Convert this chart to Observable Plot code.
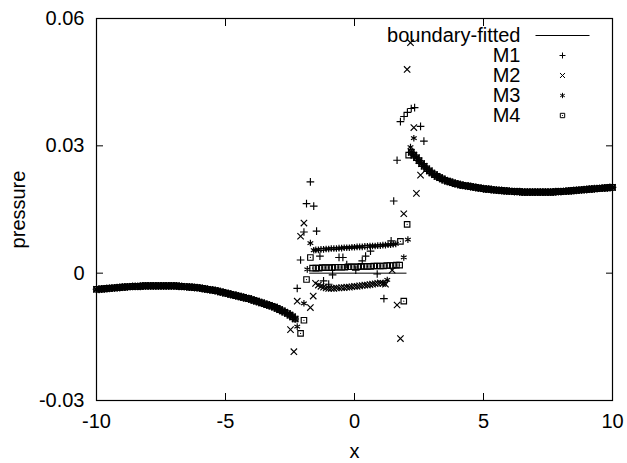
<!DOCTYPE html>
<html><head><meta charset="utf-8">
<script src="https://cdn.jsdelivr.net/npm/d3@7"></script>
<script src="https://cdn.jsdelivr.net/npm/@observablehq/plot@0.6"></script>
<style>body{margin:0;background:#fff;}</style>
</head><body><div id="chart"></div>
<script>
const xTicks = [-10, -5, 0, 5, 10];
const yTicks = [-0.03, 0, 0.03, 0.06];
const yTickLabels = ["-0.03", "0", "0.03", "0.06"];
const seriesNames = ["M1", "M2", "M3", "M4"];
const lineName = "boundary-fitted";

// outer flow (all methods agree here)
const leftX = [-10,-9.9,-9.8,-9.7,-9.6,-9.5,-9.4,-9.3,-9.2,-9.1,-9,-8.9,-8.8,-8.7,-8.6,-8.5,-8.4,-8.3,-8.2,-8.1,-8,-7.9,-7.8,-7.7,-7.6,-7.5,-7.4,-7.3,-7.2,-7.1,-7,-6.9,-6.8,-6.7,-6.6,-6.5,-6.4,-6.3,-6.2,-6.1,-6,-5.9,-5.8,-5.7,-5.6,-5.5,-5.4,-5.3,-5.2,-5.1,-5,-4.9,-4.8,-4.7,-4.6,-4.5,-4.4,-4.3,-4.2,-4.1,-4,-3.9,-3.8,-3.7,-3.6,-3.5,-3.4,-3.3,-3.2,-3.1,-3,-2.9,-2.8,-2.7,-2.6,-2.5,-2.4,-2.3];
const leftP = [-0.0038,-0.0038,-0.0037,-0.0037,-0.0036,-0.0036,-0.0035,-0.0035,-0.0034,-0.0034,-0.0033,-0.0033,-0.0032,-0.0032,-0.0031,-0.0031,-0.0031,-0.0031,-0.0030,-0.0030,-0.0030,-0.0030,-0.0030,-0.0030,-0.0030,-0.0030,-0.0030,-0.0030,-0.0030,-0.0030,-0.0030,-0.0030,-0.0031,-0.0031,-0.0032,-0.0032,-0.0033,-0.0033,-0.0034,-0.0034,-0.0035,-0.0036,-0.0037,-0.0038,-0.0039,-0.0040,-0.0041,-0.0042,-0.0044,-0.0045,-0.0047,-0.0048,-0.0050,-0.0051,-0.0053,-0.0054,-0.0056,-0.0057,-0.0059,-0.0060,-0.0062,-0.0064,-0.0066,-0.0068,-0.0070,-0.0072,-0.0074,-0.0076,-0.0078,-0.0080,-0.0083,-0.0086,-0.0089,-0.0092,-0.0095,-0.0099,-0.0103,-0.0108];
const rightX = [2.2,2.3,2.4,2.5,2.6,2.7,2.8,2.9,3,3.1,3.2,3.3,3.4,3.5,3.6,3.7,3.8,3.9,4,4.1,4.2,4.3,4.4,4.5,4.6,4.7,4.8,4.9,5,5.1,5.2,5.3,5.4,5.5,5.6,5.7,5.8,5.9,6,6.1,6.2,6.3,6.4,6.5,6.6,6.7,6.8,6.9,7,7.1,7.2,7.3,7.4,7.5,7.6,7.7,7.8,7.9,8,8.1,8.2,8.3,8.4,8.5,8.6,8.7,8.8,8.9,9,9.1,9.2,9.3,9.4,9.5,9.6,9.7,9.8,9.9,10];
const rightP = [0.0285,0.0278,0.0272,0.0265,0.0258,0.0252,0.0246,0.0241,0.0236,0.0232,0.0228,0.0225,0.0222,0.0219,0.0217,0.0215,0.0213,0.0211,0.0210,0.0208,0.0207,0.0206,0.0205,0.0204,0.0203,0.0202,0.0201,0.0200,0.0199,0.0198,0.0198,0.0197,0.0196,0.0196,0.0195,0.0195,0.0194,0.0194,0.0193,0.0193,0.0192,0.0192,0.0192,0.0191,0.0191,0.0191,0.0191,0.0191,0.0191,0.0191,0.0191,0.0191,0.0191,0.0191,0.0191,0.0191,0.0192,0.0192,0.0192,0.0193,0.0193,0.0194,0.0194,0.0195,0.0195,0.0196,0.0196,0.0197,0.0197,0.0198,0.0198,0.0199,0.0199,0.0200,0.0200,0.0201,0.0201,0.0202,0.0202];

// boundary-fitted inside the gap
const bfInnerX = [-1.74, 2.0];
const bfInnerP = [0, 0];

// scattered inner values of each method
const m1X = [-2.22,-2.09,-1.96,-1.86,-1.71,-1.58,-1.47,-1.34,-1.2,-1.0,-0.85,-0.6,-0.45,-0.3,0.05,0.3,0.43,0.62,0.88,1.14,1.42,1.52,1.65,1.78,1.92,2.05,2.2,2.33,2.56,2.69];
const m1P = [-0.0036,0.0031,0.0097,0.0164,0.0215,0.0158,0.0099,0.0040,-0.0018,-0.0026,-0.0004,0.0037,0.0037,0.0020,0.0007,0.0029,0.0040,0.0052,-0.0002,-0.0060,0.0076,0.0170,0.0266,0.0357,0.0369,0.0379,0.0388,0.0390,0.0346,0.0311];
const m2X = [-2.48,-2.35,-2.22,-2.09,-1.96,-1.71,-1.6,-1.51,-1.4,-1.3,-1.2,-1.1,-1.0,-0.9,-0.8,-0.7,-0.6,-0.5,-0.4,-0.3,-0.2,-0.1,0,0.1,0.2,0.3,0.4,0.5,0.6,0.7,0.8,0.9,1.0,1.1,1.2,1.46,1.65,1.78,1.91,2.04,2.17,2.3,2.4,2.56];
const m2P = [-0.0133,-0.0185,-0.0066,0.0087,0.0118,-0.0081,-0.0054,-0.0024,-0.0028,-0.0031,-0.0033,-0.0035,-0.0036,-0.0036,-0.0036,-0.0035,-0.0035,-0.0034,-0.0034,-0.0033,-0.0033,-0.0032,-0.0031,-0.0031,-0.0030,-0.0029,-0.0028,-0.0028,-0.0027,-0.0026,-0.0025,-0.0024,-0.0023,-0.0024,-0.0026,0.0007,-0.0075,-0.0154,0.0140,0.0480,0.0543,0.0343,0.0188,0.0231];
const m3X = [-2.22,-1.96,-1.83,-1.71,-1.58,-1.5,-1.4,-1.3,-1.2,-1.1,-1.0,-0.9,-0.8,-0.7,-0.6,-0.5,-0.4,-0.3,-0.2,-0.1,0,0.1,0.2,0.3,0.4,0.5,0.6,0.7,0.8,0.9,1.0,1.1,1.2,1.3,1.4,1.5,1.6,1.14,1.27,1.91,2.07,2.17,2.3];
const m3P = [-0.0126,-0.0071,0.0009,0.0071,0.0054,0.0055,0.0055,0.0056,0.0056,0.0057,0.0057,0.0058,0.0058,0.0058,0.0059,0.0059,0.0060,0.0060,0.0060,0.0061,0.0061,0.0062,0.0062,0.0062,0.0063,0.0063,0.0064,0.0064,0.0064,0.0065,0.0065,0.0066,0.0066,0.0067,0.0067,0.0068,0.0069,-0.0024,-0.0016,0.0037,0.0079,0.0297,0.0318];
const m4X = [-2.09,-1.96,-1.86,-1.71,-1.625,-1.5,-1.375,-1.25,-1.125,-1.0,-0.875,-0.75,-0.625,-0.5,-0.375,-0.25,-0.125,0,0.125,0.25,0.375,0.5,0.625,0.75,0.875,1.0,1.125,1.25,1.375,1.5,1.625,1.75,1.78,1.91,2.04,2.1];
const m4P = [-0.0142,-0.0111,-0.0015,0.0037,0.0012,0.0012,0.0012,0.0013,0.0013,0.0013,0.0013,0.0014,0.0014,0.0014,0.0014,0.0015,0.0015,0.0015,0.0015,0.0016,0.0016,0.0016,0.0016,0.0017,0.0017,0.0017,0.0017,0.0018,0.0018,0.0018,0.0019,0.0019,0.0075,-0.0066,0.0115,0.0278];

const pts = (X, P, s) => X.map((x, i) => ({x, p: P[i], s}));
const outer = (s) => [...pts(leftX, leftP, s), ...pts(rightX, rightP, s)];
const inner = {M1: [m1X, m1P], M2: [m2X, m2P], M3: [m3X, m3P], M4: [m4X, m4P]};
const series = Object.fromEntries(seriesNames.map(s => [s, [...outer(s), ...pts(inner[s][0], inner[s][1], s)]]));
const bfData = [...pts(leftX, leftP, "L"), ...pts(bfInnerX, bfInnerP, "Z"), ...pts(rightX, rightP, "R")];

const symbols = {M1: "plus", M2: "times", M3: "asterisk", M4: "square"};
const radii = {M1: 2.6, M2: 3.0, M3: 3.1, M4: 3.1};
const lineSample = {draw(ctx) { ctx.moveTo(-27, 0); ctx.lineTo(27, 0); }};

const fmtY = d => yTickLabels[yTicks.indexOf(d)];
const marks = [
  Plot.line(bfData, {x: "x", y: "p", z: "s", stroke: "#000", strokeWidth: 1}),
];
for (const s of seriesNames) {
  marks.push(Plot.dot(series[s], {x: "x", y: "p", symbol: () => symbols[s], r: radii[s], stroke: "#000", strokeWidth: 1.15, fill: "none"}));
}
marks.push(Plot.dot(series.M4, {x: "x", y: "p", r: 0.6, fill: "#000", stroke: "none"}));
// legend
const legendRows = [lineName, ...seriesNames];
legendRows.forEach((name, i) => {
  const dy = 17 + 20 * i;
  marks.push(Plot.text([name], {x: null, y: null, text: d => d, frameAnchor: "top-right", dx: -92, dy, textAnchor: "end", lineAnchor: "middle"}));
  if (i === 0) {
    marks.push(Plot.dot([name], {x: null, y: null, frameAnchor: "top-right", dx: -50, dy, symbol: lineSample, stroke: "#000", strokeWidth: 1}));
  } else {
    marks.push(Plot.dot([name], {x: null, y: null, frameAnchor: "top-right", dx: -50, dy, symbol: symbols[name], r: radii[name] * 0.8, stroke: "#000", strokeWidth: 1, fill: "none"}));
    if (name === "M4") marks.push(Plot.dot([name], {x: null, y: null, frameAnchor: "top-right", dx: -50, dy, r: 0.6, fill: "#000"}));
  }
});
// axes
marks.push(
  Plot.axisX(xTicks, {anchor: "bottom", tickSize: 0, tickPadding: 13, label: null, tickFormat: d => String(d)}),
  Plot.axisX(xTicks, {anchor: "bottom", tickSize: 7, dy: -7, tickFormat: () => "", label: null}),
  Plot.axisX(xTicks, {anchor: "top", tickSize: 7, dy: 7, tickFormat: () => "", label: null}),
  Plot.axisY(yTicks, {anchor: "left", tickSize: 0, tickPadding: 12, label: null, tickFormat: fmtY}),
  Plot.axisY(yTicks, {anchor: "left", tickSize: 7, dx: 7, tickFormat: () => "", label: null}),
  Plot.axisY(yTicks, {anchor: "right", tickSize: 7, dx: -7, tickFormat: () => "", label: null}),
  Plot.frame({stroke: "#000", strokeWidth: 1.2}),
  Plot.text(["x"], {x: null, y: null, text: d => d, frameAnchor: "bottom", dy: 51, lineAnchor: "middle"}),
  Plot.text(["pressure"], {x: null, y: null, text: d => d, frameAnchor: "left", dx: -78, rotate: -90, textAnchor: "middle", lineAnchor: "middle"})
);

const chart = Plot.plot({
  width: 627, height: 463,
  marginLeft: 96, marginRight: 15, marginTop: 18, marginBottom: 63,
  style: {fontFamily: "'Liberation Sans', Arial, Helvetica, sans-serif", fontSize: "20px", color: "#000", background: "#fff"},
  x: {domain: [-10, 10]},
  y: {domain: [-0.03, 0.06]},
  marks
});
document.getElementById("chart").append(chart);
</script>
</body></html>
